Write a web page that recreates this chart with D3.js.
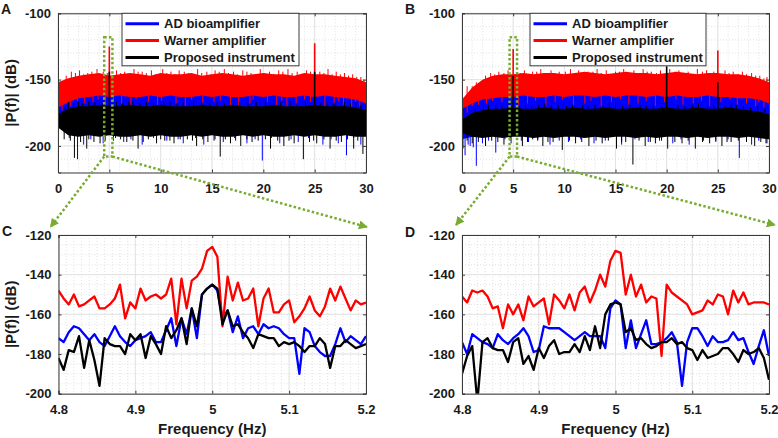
<!DOCTYPE html>
<html><head><meta charset="utf-8">
<script src="https://cdn.jsdelivr.net/npm/d3@7"></script>
<style>
body{margin:0;background:#fff}
svg{display:block}
text{font-family:"Liberation Sans",Arial,Helvetica,sans-serif;font-weight:bold;fill:#1a1a1a}
</style>
</head><body>
<svg id="c" width="778" height="438"></svg>
<script>
// ---------- DATA ----------
const seriesNames = ["AD bioamplifier", "Warner amplifier", "Proposed instrument"];
const seriesColors = ["#0000ff", "#ff0000", "#000000"];

// top panels: band envelopes sampled every 1 Hz (0..30 Hz)
const fTop = [0,1,2,3,4,5,6,7,8,9,10,11,12,13,14,15,16,17,18,19,20,21,22,23,24,25,26,27,28,29,30];
const A_redTop   = [-152,-149,-147,-146,-145,-147,-146,-145,-146,-147,-145,-146,-146,-145,-147,-146,-145,-146,-147,-146,-145,-146,-146,-147,-145,-146,-146,-147,-148,-149,-152];
const A_redBot   = [-171,-167,-164,-163,-162,-163,-162,-163,-163,-162,-163,-162,-163,-163,-162,-163,-162,-163,-163,-162,-163,-162,-163,-163,-162,-163,-162,-163,-164,-165,-168];
const A_blueTop  = [-170,-165,-161,-160,-160,-160,-160,-160,-160,-160,-160,-160,-160,-160,-160,-160,-160,-160,-160,-160,-160,-160,-160,-160,-160,-160,-160,-160,-161,-162,-165];
const A_blueBot  = [-185,-190,-191,-190,-190,-191,-190,-190,-191,-190,-190,-191,-190,-190,-191,-190,-190,-191,-190,-190,-191,-190,-190,-191,-190,-190,-191,-190,-190,-191,-190];
const A_blackTop = [-176,-172,-170,-170,-169,-170,-170,-169,-170,-170,-169,-170,-170,-170,-169,-170,-170,-169,-170,-170,-170,-169,-170,-170,-170,-169,-170,-170,-170,-171,-173];
const A_blackBot = [-186,-192,-193,-192,-193,-192,-193,-193,-192,-193,-192,-193,-193,-192,-193,-192,-193,-193,-192,-193,-192,-193,-193,-192,-193,-192,-193,-193,-192,-193,-193];

const B_redTop   = [-165,-156,-150,-147,-146,-146,-145,-146,-145,-145,-146,-145,-144,-145,-146,-145,-144,-145,-145,-146,-145,-144,-145,-146,-145,-145,-146,-146,-147,-149,-152];
const B_redBot   = [-172,-168,-165,-164,-163,-163,-162,-163,-163,-162,-163,-162,-162,-163,-162,-163,-162,-162,-163,-162,-163,-162,-163,-163,-162,-163,-163,-164,-164,-165,-168];
const B_blueTop  = [-170,-165,-162,-161,-160,-160,-160,-160,-160,-160,-160,-160,-160,-160,-160,-160,-160,-160,-160,-160,-160,-160,-160,-160,-160,-160,-160,-161,-161,-162,-165];
const B_blueBot  = [-195,-193,-191,-190,-191,-190,-190,-191,-190,-190,-191,-190,-190,-191,-190,-190,-191,-190,-190,-191,-190,-190,-191,-190,-190,-191,-190,-191,-191,-192,-193];
const B_blackTop = [-180,-175,-173,-172,-172,-171,-172,-172,-171,-172,-172,-171,-172,-172,-171,-172,-172,-171,-172,-172,-171,-172,-172,-171,-172,-172,-171,-172,-173,-174,-176];
const B_blackBot = [-190,-193,-194,-193,-194,-193,-193,-194,-193,-194,-193,-193,-194,-193,-194,-193,-193,-194,-193,-194,-193,-193,-194,-193,-194,-193,-193,-194,-193,-194,-195];

// individual spikes [Hz, dB]
const A_redSpikes = [[1.3,-144],[2.1,-143],[2.9,-145],[3.8,-142],[4.4,-144],[5.7,-143],[6.5,-144],[7.4,-142],[8.2,-144],[9.1,-143],[10.2,-142],[11.0,-144],[11.8,-143],[12.7,-145],[13.6,-142],[14.5,-144],[15.3,-143],[16.2,-142],[17.1,-144],[18.0,-143],[18.8,-145],[19.7,-142],[20.6,-144],[21.5,-143],[22.4,-142],[23.3,-144],[24.2,-143],[25.5,-144],[26.3,-142],[27.1,-144],[27.9,-145],[28.7,-146],[29.5,-148],
  [0.8,-147],[1.7,-145],[2.5,-146],[3.3,-144],[4.0,-146],[4.8,-145],[6.1,-145],[6.9,-146],[7.8,-144],[8.6,-145],[9.5,-146],[10.6,-145],[11.4,-146],[12.3,-144],[13.1,-146],[14.0,-145],[14.9,-146],[15.7,-144],[16.6,-145],[17.5,-146],[18.4,-144],[19.3,-146],[20.1,-145],[21.0,-146],[21.9,-144],[22.8,-145],[23.7,-146],[24.6,-144],[25.9,-145],[26.7,-146],[27.5,-146],[28.3,-147],[29.1,-148],[29.8,-150],
  [0.4,-173],[1.2,-170],[2.6,-168],[3.4,-167],[4.6,-169],[6.2,-168],[7.1,-170],[8.8,-167],[9.7,-169],[11.5,-168],[12.4,-170],[14.1,-168],[15.2,-167],[16.8,-169],[17.6,-170],[18.7,-168],[20.4,-167],[21.3,-169],[22.3,-170],[23.2,-168],[24.6,-167],[26.0,-170],[26.9,-168],[27.8,-169],[28.6,-171],[29.4,-170],
  [1.9,-166],[3.9,-165],[5.4,-166],[7.6,-165],[10.1,-166],[13.0,-165],[15.8,-166],[19.0,-165],[21.8,-166],[24.0,-165],[27.3,-166],[29.0,-167]];
const A_redPeaks = [[5.0,-125],[25.0,-122.5]];
const A_blueSpikes = [[1.9,-210],[2.5,-199],[4.4,-198],[6.4,-197],[8.2,-199],[10.6,-196],[12.2,-198],[14.2,-199],[16.1,-197],[18.4,-198],[19.9,-211],[21.6,-198],[23.4,-197],[25.8,-199],[27.3,-198],[28.1,-207],[29.5,-199],[5.0,-158],[25.0,-160],
  [1.1,-194],[3.2,-195],[5.6,-194],[7.1,-195],[9.3,-194],[11.7,-195],[13.4,-194],[15.3,-195],[17.2,-194],[19.2,-195],[20.8,-194],[22.7,-195],[24.4,-194],[26.6,-195],[28.8,-194]];
const A_blackSpikes = [[0.6,-195],[1.6,-209],[2.8,-202],[3.5,-197],[4.1,-198],[5.4,-196],[6.7,-197],[7.8,-202],[8.8,-195],[9.6,-198],[10.4,-196],[11.3,-198],[12.6,-195],[13.5,-200],[14.6,-197],[15.8,-208],[16.8,-198],[17.8,-200],[18.9,-197],[20.7,-202],[21.4,-196],[22.0,-200],[23.0,-198],[23.9,-210],[24.5,-197],[25.2,-198],[26.5,-202],[27.6,-197],[28.8,-202],[29.7,-206],
  [1.2,-196],[2.2,-197],[3.0,-195],[4.6,-196],[6.1,-195],[7.3,-196],[8.3,-197],[10.0,-195],[10.9,-196],[11.9,-195],[13.1,-196],[14.1,-195],[15.2,-196],[16.3,-195],[17.3,-196],[18.4,-195],[19.5,-196],[20.2,-195],[22.5,-196],[24.9,-196],[25.9,-195],[27.1,-196],[28.2,-195],[29.2,-196],
  [1.0,-167],[3.0,-166],[7.3,-166],[10.9,-167],[13.2,-166],[17.1,-166],[20.2,-167],[22.6,-166],[27.0,-167],[29.0,-167],
  [0.7,-171],[1.5,-168],[2.0,-167],[2.4,-168],[3.6,-167],[4.3,-168],[5.7,-167],[6.3,-168],[6.9,-167],[8.0,-168],[8.6,-167],[9.3,-168],[10.3,-167],[11.6,-168],[12.2,-167],[12.8,-168],[14.0,-167],[14.8,-168],[15.5,-167],[16.2,-168],[17.7,-167],[18.5,-168],[19.3,-167],[21.0,-168],[21.7,-167],[23.3,-168],[24.1,-167],[25.6,-168],[26.2,-167],[26.8,-168],[27.9,-167],[28.5,-168],[29.5,-169]];
const A_blackPeaks = [[5.0,-144],[25.0,-144]];

const B_redSpikes = [[2.8,-145],[3.6,-144],[4.5,-143],[6.1,-143],[6.9,-144],[7.7,-142],[8.7,-143],[9.5,-144],[10.6,-142],[11.4,-143],[12.3,-144],[13.2,-142],[14.1,-143],[15.0,-144],[15.8,-142],[16.8,-143],[17.7,-142],[18.5,-144],[19.4,-143],[20.3,-142],[21.2,-143],[22.1,-144],[23.0,-142],[23.9,-143],[24.6,-144],[25.7,-143],[26.5,-144],[27.4,-144],[28.3,-145],[29.1,-147],[29.8,-148],
  [1.4,-152],[2.3,-147],[3.2,-146],[4.1,-145],[5.7,-145],[6.5,-146],[7.3,-144],[8.2,-145],[9.1,-146],[10.1,-144],[11.0,-145],[11.8,-146],[12.8,-144],[13.6,-145],[14.5,-146],[15.4,-144],[16.3,-145],[17.2,-146],[18.1,-144],[19.0,-145],[19.8,-146],[20.8,-144],[21.7,-145],[22.6,-146],[23.5,-144],[24.3,-145],[26.1,-145],[27.0,-146],[27.8,-146],[28.7,-147],[29.5,-149],
  [0.5,-175],[1.6,-169],[2.4,-168],[3.9,-167],[5.5,-169],[6.4,-168],[8.2,-170],[9.1,-167],[10.9,-169],[12.0,-168],[13.6,-170],[14.6,-167],[16.3,-169],[17.2,-168],[18.9,-170],[19.8,-167],[21.6,-169],[22.6,-168],[24.2,-170],[25.3,-167],[26.9,-169],[27.8,-168],[28.7,-170],[29.5,-171],
  [1.0,-170],[3.0,-166],[4.9,-165],[7.2,-166],[9.8,-165],[12.6,-166],[15.5,-165],[18.0,-166],[20.9,-165],[23.4,-166],[26.2,-165],[29.0,-167]];
const B_redPeaks = [[5.0,-127],[25.0,-128]];
const B_blueSpikes = [[0.3,-207],[0.8,-200],[1.4,-215],[2.0,-198],[3.3,-205],[4.8,-198],[6.5,-197],[8.6,-199],[10.4,-197],[12.9,-198],[15.6,-199],[18.2,-197],[20.6,-198],[22.2,-199],[24.8,-197],[27.1,-209],[28.3,-199],[29.7,-198],[5.0,-160],[25.0,-162],
  [0.1,-202],[0.6,-199],[1.1,-201],[2.6,-196],[4.2,-195],[5.8,-196],[7.4,-195],[9.5,-196],[11.6,-195],[14.0,-196],[16.9,-195],[19.3,-196],[21.4,-195],[23.6,-196],[26.0,-195],[29.0,-196]];
const B_blackSpikes = [[1.0,-198],[2.3,-200],[4.1,-199],[5.9,-200],[6.9,-195],[7.9,-200],[8.9,-197],[9.8,-203],[11.1,-198],[12.4,-200],[13.1,-196],[13.7,-198],[15.1,-202],[16.0,-197],[16.7,-214],[17.9,-200],[18.9,-198],[20.1,-202],[21.5,-198],[22.8,-202],[23.5,-197],[24.2,-198],[25.4,-200],[26.3,-197],[28.6,-200],[29.2,-197],[29.8,-198],
  [0.5,-196],[1.6,-197],[2.9,-196],[3.5,-197],[4.7,-196],[6.4,-197],[7.4,-196],[8.4,-197],[10.5,-196],[11.7,-197],[14.3,-196],[15.6,-197],[17.3,-196],[18.4,-197],[19.5,-196],[20.8,-197],[22.1,-196],[24.8,-196],[25.9,-197],[27.0,-196],[27.8,-197],
  [2.6,-169],[8.1,-168],[11.8,-169],[14.4,-168],[17.4,-169],[23.1,-168],[26.8,-169],[28.9,-170],
  [1.3,-172],[2.1,-170],[3.3,-169],[3.9,-170],[4.5,-169],[5.6,-170],[6.2,-169],[6.8,-170],[7.5,-169],[8.7,-170],[9.4,-169],[10.2,-170],[10.8,-169],[12.3,-170],[13.0,-169],[13.8,-170],[15.0,-169],[15.7,-170],[16.4,-169],[18.0,-170],[18.7,-169],[19.5,-170],[21.1,-169],[21.8,-170],[22.5,-169],[24.0,-170],[24.6,-169],[25.7,-170],[26.3,-169],[27.5,-170],[28.2,-171],[29.6,-172]];
const B_blackPeaks = [[5.0,-147],[20.0,-140],[25.0,-152]];

// bottom panels: 61 bins from 4.8 to 5.2 Hz
const fLowStart = 4.8, fLowStep = 0.4 / 60;
const C_blue  = [-172,-174,-169,-166,-167,-170,-173,-170,-174,-176,-171,-166,-171,-174,-176,-173,-172,-171,-169,-174,-174,-168,-162,-176,-162,-170,-157,-172,-150,-147,-145,
                 -148,-162,-158,-169,-161,-172,-167,-166,-170,-165,-167,-166,-167,-170,-172,-172,-190,-167,-169,-176,-179,-181,-181,-175,-167,-174,-171,-173,-175,-171];
const C_red   = [-148,-152,-155,-150,-156,-155,-153,-151,-157,-157,-155,-152,-145,-162,-154,-157,-147,-153,-151,-150,-152,-150,-142,-165,-142,-157,-143,-141,-137,-128,-126,
                 -131,-166,-141,-153,-144,-153,-152,-147,-166,-152,-147,-159,-159,-155,-153,-164,-161,-157,-151,-158,-161,-156,-147,-153,-146,-152,-158,-153,-155,-154];
const C_black = [-182,-188,-178,-179,-171,-187,-173,-183,-196,-172,-175,-176,-176,-180,-170,-173,-170,-182,-171,-175,-180,-166,-172,-168,-162,-175,-157,-166,-150,-147,-145,
                 -147,-165,-158,-166,-165,-169,-172,-177,-170,-171,-172,-172,-176,-174,-175,-174,-176,-179,-176,-176,-172,-175,-187,-176,-176,-173,-175,-177,-176,-175];
const D_blue  = [-174,-180,-170,-172,-174,-175,-177,-170,-173,-175,-172,-170,-167,-171,-179,-178,-166,-167,-167,-167,-169,-171,-173,-171,-169,-171,-171,-171,-177,-157,-153,
                 -155,-177,-163,-177,-170,-163,-175,-175,-174,-172,-169,-174,-196,-174,-167,-167,-171,-176,-171,-174,-174,-173,-169,-173,-172,-179,-185,-176,-168,-181];
const D_red   = [-151,-154,-148,-149,-148,-151,-157,-156,-167,-155,-160,-155,-163,-151,-156,-154,-152,-165,-150,-153,-157,-150,-158,-149,-146,-154,-148,-140,-146,-133,-128,
                 -129,-150,-140,-151,-145,-154,-151,-152,-181,-145,-149,-151,-153,-155,-160,-159,-158,-153,-155,-150,-151,-160,-148,-154,-149,-155,-154,-154,-154,-155];
const D_black = [-190,-181,-176,-204,-174,-172,-177,-178,-178,-184,-174,-172,-185,-181,-188,-177,-182,-176,-173,-180,-179,-179,-175,-179,-171,-178,-166,-177,-160,-155,-154,
                 -155,-169,-167,-173,-172,-175,-177,-176,-174,-174,-172,-175,-174,-177,-178,-183,-178,-182,-181,-180,-177,-177,-180,-184,-178,-180,-179,-177,-182,-193];

// ticks
const topXTicks = [0,5,10,15,20,25,30];
const topYTicks = [-100,-150,-200];
const lowXTicks = [4.8,4.9,5.0,5.1,5.2];
const lowXLabels = ["4.8","4.9","5","5.1","5.2"];
const lowYTicks = [-120,-140,-160,-180,-200];

// ---------- DRAWING ----------
const svg = d3.select("#c");
const GREEN = "#77ac30";
const AXC = "#3a3a3a";

const defs = svg.append("defs");
defs.append("marker").attr("id","arr").attr("viewBox","0 0 10 10")
  .attr("refX",9).attr("refY",5).attr("markerWidth",9).attr("markerHeight",9)
  .attr("markerUnits","userSpaceOnUse").attr("orient","auto")
  .append("path").attr("d","M0,0L10,5L0,10Z").attr("fill",GREEN);

const L = {
  A:{x0:58,x1:366,y0:13.3,y1:172.5},
  B:{x0:462,x1:769,y0:13.3,y1:172.5},
  C:{x0:58.5,x1:366,y0:235,y1:393.7},
  D:{x0:462,x1:769,y0:235,y1:393.7}
};

const hy = d => String(d);   // plain hyphen-minus like the original

function makePanel(key, xd, yd, xTicks, xLabels, yTicks, xMinStep, yMinStep) {
  const p = L[key];
  const x = d3.scaleLinear().domain(xd).range([p.x0, p.x1]);
  const y = d3.scaleLinear().domain(yd).range([p.y1, p.y0]);
  const g = svg.append("g");
  const xm = d3.range(Math.round((xd[1]-xd[0])/xMinStep)+1).map(i => xd[0] + i*xMinStep);
  const ym = d3.range(Math.round((yd[1]-yd[0])/yMinStep)+1).map(i => yd[0] + i*yMinStep);
  g.append("g").selectAll("line").data(xm).join("line")
    .attr("x1",d=>x(d)).attr("x2",d=>x(d)).attr("y1",p.y0).attr("y2",p.y1)
    .attr("stroke","#d4d4d4").attr("stroke-width",0.7).attr("stroke-dasharray","1,2");
  g.append("g").selectAll("line").data(ym).join("line")
    .attr("y1",d=>y(d)).attr("y2",d=>y(d)).attr("x1",p.x0).attr("x2",p.x1)
    .attr("stroke","#d4d4d4").attr("stroke-width",0.7).attr("stroke-dasharray","1,2");
  g.append("g").selectAll("line").data(xTicks).join("line")
    .attr("x1",d=>x(d)).attr("x2",d=>x(d)).attr("y1",p.y0).attr("y2",p.y1)
    .attr("stroke","#dedede").attr("stroke-width",0.8);
  g.append("g").selectAll("line").data(yTicks).join("line")
    .attr("y1",d=>y(d)).attr("y2",d=>y(d)).attr("x1",p.x0).attr("x2",p.x1)
    .attr("stroke","#dedede").attr("stroke-width",0.8);
  const clipId = "clip" + key;
  defs.append("clipPath").attr("id",clipId).append("rect")
    .attr("x",p.x0).attr("y",p.y0).attr("width",p.x1-p.x0).attr("height",p.y1-p.y0);
  const plot = svg.append("g").attr("clip-path",`url(#${clipId})`);
  const axes = () => {
    const ag = svg.append("g");
    const fmt = xLabels ? (d,i)=>xLabels[i] : hy;
    const bx = ag.append("g").attr("transform",`translate(0,${p.y1})`)
      .call(d3.axisBottom(x).tickValues(xTicks).tickFormat(fmt).tickSize(-3).tickPadding(11));
    const ly = ag.append("g").attr("transform",`translate(${p.x0},0)`)
      .call(d3.axisLeft(y).tickValues(yTicks).tickFormat(hy).tickSize(-3).tickPadding(7));
    const tx = ag.append("g").attr("transform",`translate(0,${p.y0})`)
      .call(d3.axisTop(x).tickValues(xTicks).tickFormat("").tickSize(-3));
    const ry = ag.append("g").attr("transform",`translate(${p.x1},0)`)
      .call(d3.axisRight(y).tickValues(yTicks).tickFormat("").tickSize(-3));
    [bx,ly,tx,ry].forEach(a => {
      a.selectAll("path").attr("stroke",AXC).attr("stroke-width",1);
      a.selectAll("line").attr("stroke",AXC);
      a.selectAll("text").attr("font-size",13).attr("font-weight","bold")
        .attr("fill","#1a1a1a").attr("font-family","Liberation Sans, Arial, sans-serif");
    });
  };
  return {x,y,g,plot,axes,p};
}

function bandPanel(P, bands, spikes, peaks) {
  const bases = [-178,-155,-181];
  for (let s=0; s<3; s++) {
    const [top,bot] = bands[s];
    const area = d3.area().x((d,i)=>P.x(fTop[i])).y0((d,i)=>P.y(bot[i])).y1(d=>P.y(d));
    P.plot.append("path").datum(top).attr("d",area).attr("fill",seriesColors[s]);
    P.plot.append("g").selectAll("line").data(spikes[s]).join("line")
      .attr("x1",d=>P.x(d[0])).attr("x2",d=>P.x(d[0]))
      .attr("y1",P.y(bases[s])).attr("y2",d=>P.y(d[1]))
      .attr("stroke",seriesColors[s]).attr("stroke-width",1);
    P.plot.append("g").selectAll("line").data(peaks[s]).join("line")
      .attr("x1",d=>P.x(d[0])).attr("x2",d=>P.x(d[0]))
      .attr("y1",P.y(bases[s])).attr("y2",d=>P.y(d[1]))
      .attr("stroke",seriesColors[s]).attr("stroke-width",1.6);
  }
}

function linePanel(P, data) {
  const line = d3.line().x((d,i)=>P.x(fLowStart + i*fLowStep)).y(d=>P.y(d));
  data.forEach((arr,s) => {
    P.plot.append("path").datum(arr).attr("d",line).attr("fill","none")
      .attr("stroke",seriesColors[s]).attr("stroke-width",2.3).attr("stroke-linejoin","round");
  });
}

function legend(P, lx, ly, w, h) {
  const lg = svg.append("g");
  lg.append("rect").attr("x",lx).attr("y",ly).attr("width",w).attr("height",h)
    .attr("fill","#fff").attr("stroke",AXC).attr("stroke-width",1);
  seriesNames.forEach((n,i) => {
    const yy = ly + 10.5 + i*16.8;
    lg.append("line").attr("x1",lx+3.5).attr("x2",lx+37).attr("y1",yy).attr("y2",yy)
      .attr("stroke",seriesColors[i]).attr("stroke-width",3);
    lg.append("text").attr("x",lx+42).attr("y",yy).attr("dy","0.36em")
      .attr("font-size",13).text(n);
  });
}

// Panel A
const PA = makePanel("A",[0,30],[-220,-100],topXTicks,null,topYTicks,1,10);
bandPanel(PA,[[A_blueTop,A_blueBot],[A_redTop,A_redBot],[A_blackTop,A_blackBot]],
  [A_blueSpikes,A_redSpikes,A_blackSpikes],[[],A_redPeaks,A_blackPeaks]);
PA.axes();
legend(PA,122,13.3,177,52.5);

// Panel B
const PB = makePanel("B",[0,30],[-220,-100],topXTicks,null,topYTicks,1,10);
bandPanel(PB,[[B_blueTop,B_blueBot],[B_redTop,B_redBot],[B_blackTop,B_blackBot]],
  [B_blueSpikes,B_redSpikes,B_blackSpikes],[[],B_redPeaks,B_blackPeaks]);
PB.axes();
legend(PB,530,13.3,176,52.5);

// Panel C
const PC = makePanel("C",[4.8,5.2],[-200,-120],lowXTicks,lowXLabels,lowYTicks,0.01,5);
linePanel(PC,[C_blue,C_red,C_black]);
PC.axes();

// Panel D
const PD = makePanel("D",[4.8,5.2],[-200,-120],lowXTicks,lowXLabels,lowYTicks,0.01,5);
linePanel(PD,[D_blue,D_red,D_black]);
PD.axes();

// axis titles
function ylabel(P){
  svg.append("text").attr("transform",`translate(16,${(P.p.y0+P.p.y1)/2}) rotate(-90)`)
    .attr("text-anchor","middle").attr("font-size",15).text("|P(f)| (dB)");
}
ylabel(PA); ylabel(PC);
[PC,PD].forEach(P => svg.append("text").attr("x",(P.p.x0+P.p.x1)/2).attr("y",434)
  .attr("text-anchor","middle").attr("font-size",15).text("Frequency (Hz)"));

// panel letters
[["A",1,14],["B",405,14],["C",2,236],["D",405,237]].forEach(([t,xx,yy]) =>
  svg.append("text").attr("x",xx).attr("y",yy).attr("font-size",14).text(t));

// zoom annotations
function zoomBox(P, Z, f0, f1, v0, v1, offL, offR) {
  const ag = svg.append("g").attr("fill","none").attr("stroke",GREEN)
    .attr("stroke-width",2.5).attr("stroke-dasharray","2.5,2.2");
  ag.append("rect").attr("x",P.x(f0)).attr("y",P.y(v0))
    .attr("width",P.x(f1)-P.x(f0)).attr("height",P.y(v1)-P.y(v0));
  const zx0 = Z.x(Z.x.domain()[0]), zx1 = Z.x(Z.x.domain()[1]), zy = Z.y(Z.y.domain()[1]);
  ag.append("line").attr("x1",P.x(f0)).attr("y1",P.y(v1))
    .attr("x2",zx0+offL[0]).attr("y2",zy+offL[1]).attr("marker-end","url(#arr)");
  ag.append("line").attr("x1",P.x(f1)).attr("y1",P.y(v1))
    .attr("x2",zx1+offR[0]).attr("y2",zy+offR[1]).attr("marker-end","url(#arr)");
}
zoomBox(PA,PC,4.5,5.3,-118,-208,[-8,-8],[1,-8]);
zoomBox(PB,PD,4.65,5.38,-118,-208,[-6,-10],[6,-10]);
</script>
</body></html>
